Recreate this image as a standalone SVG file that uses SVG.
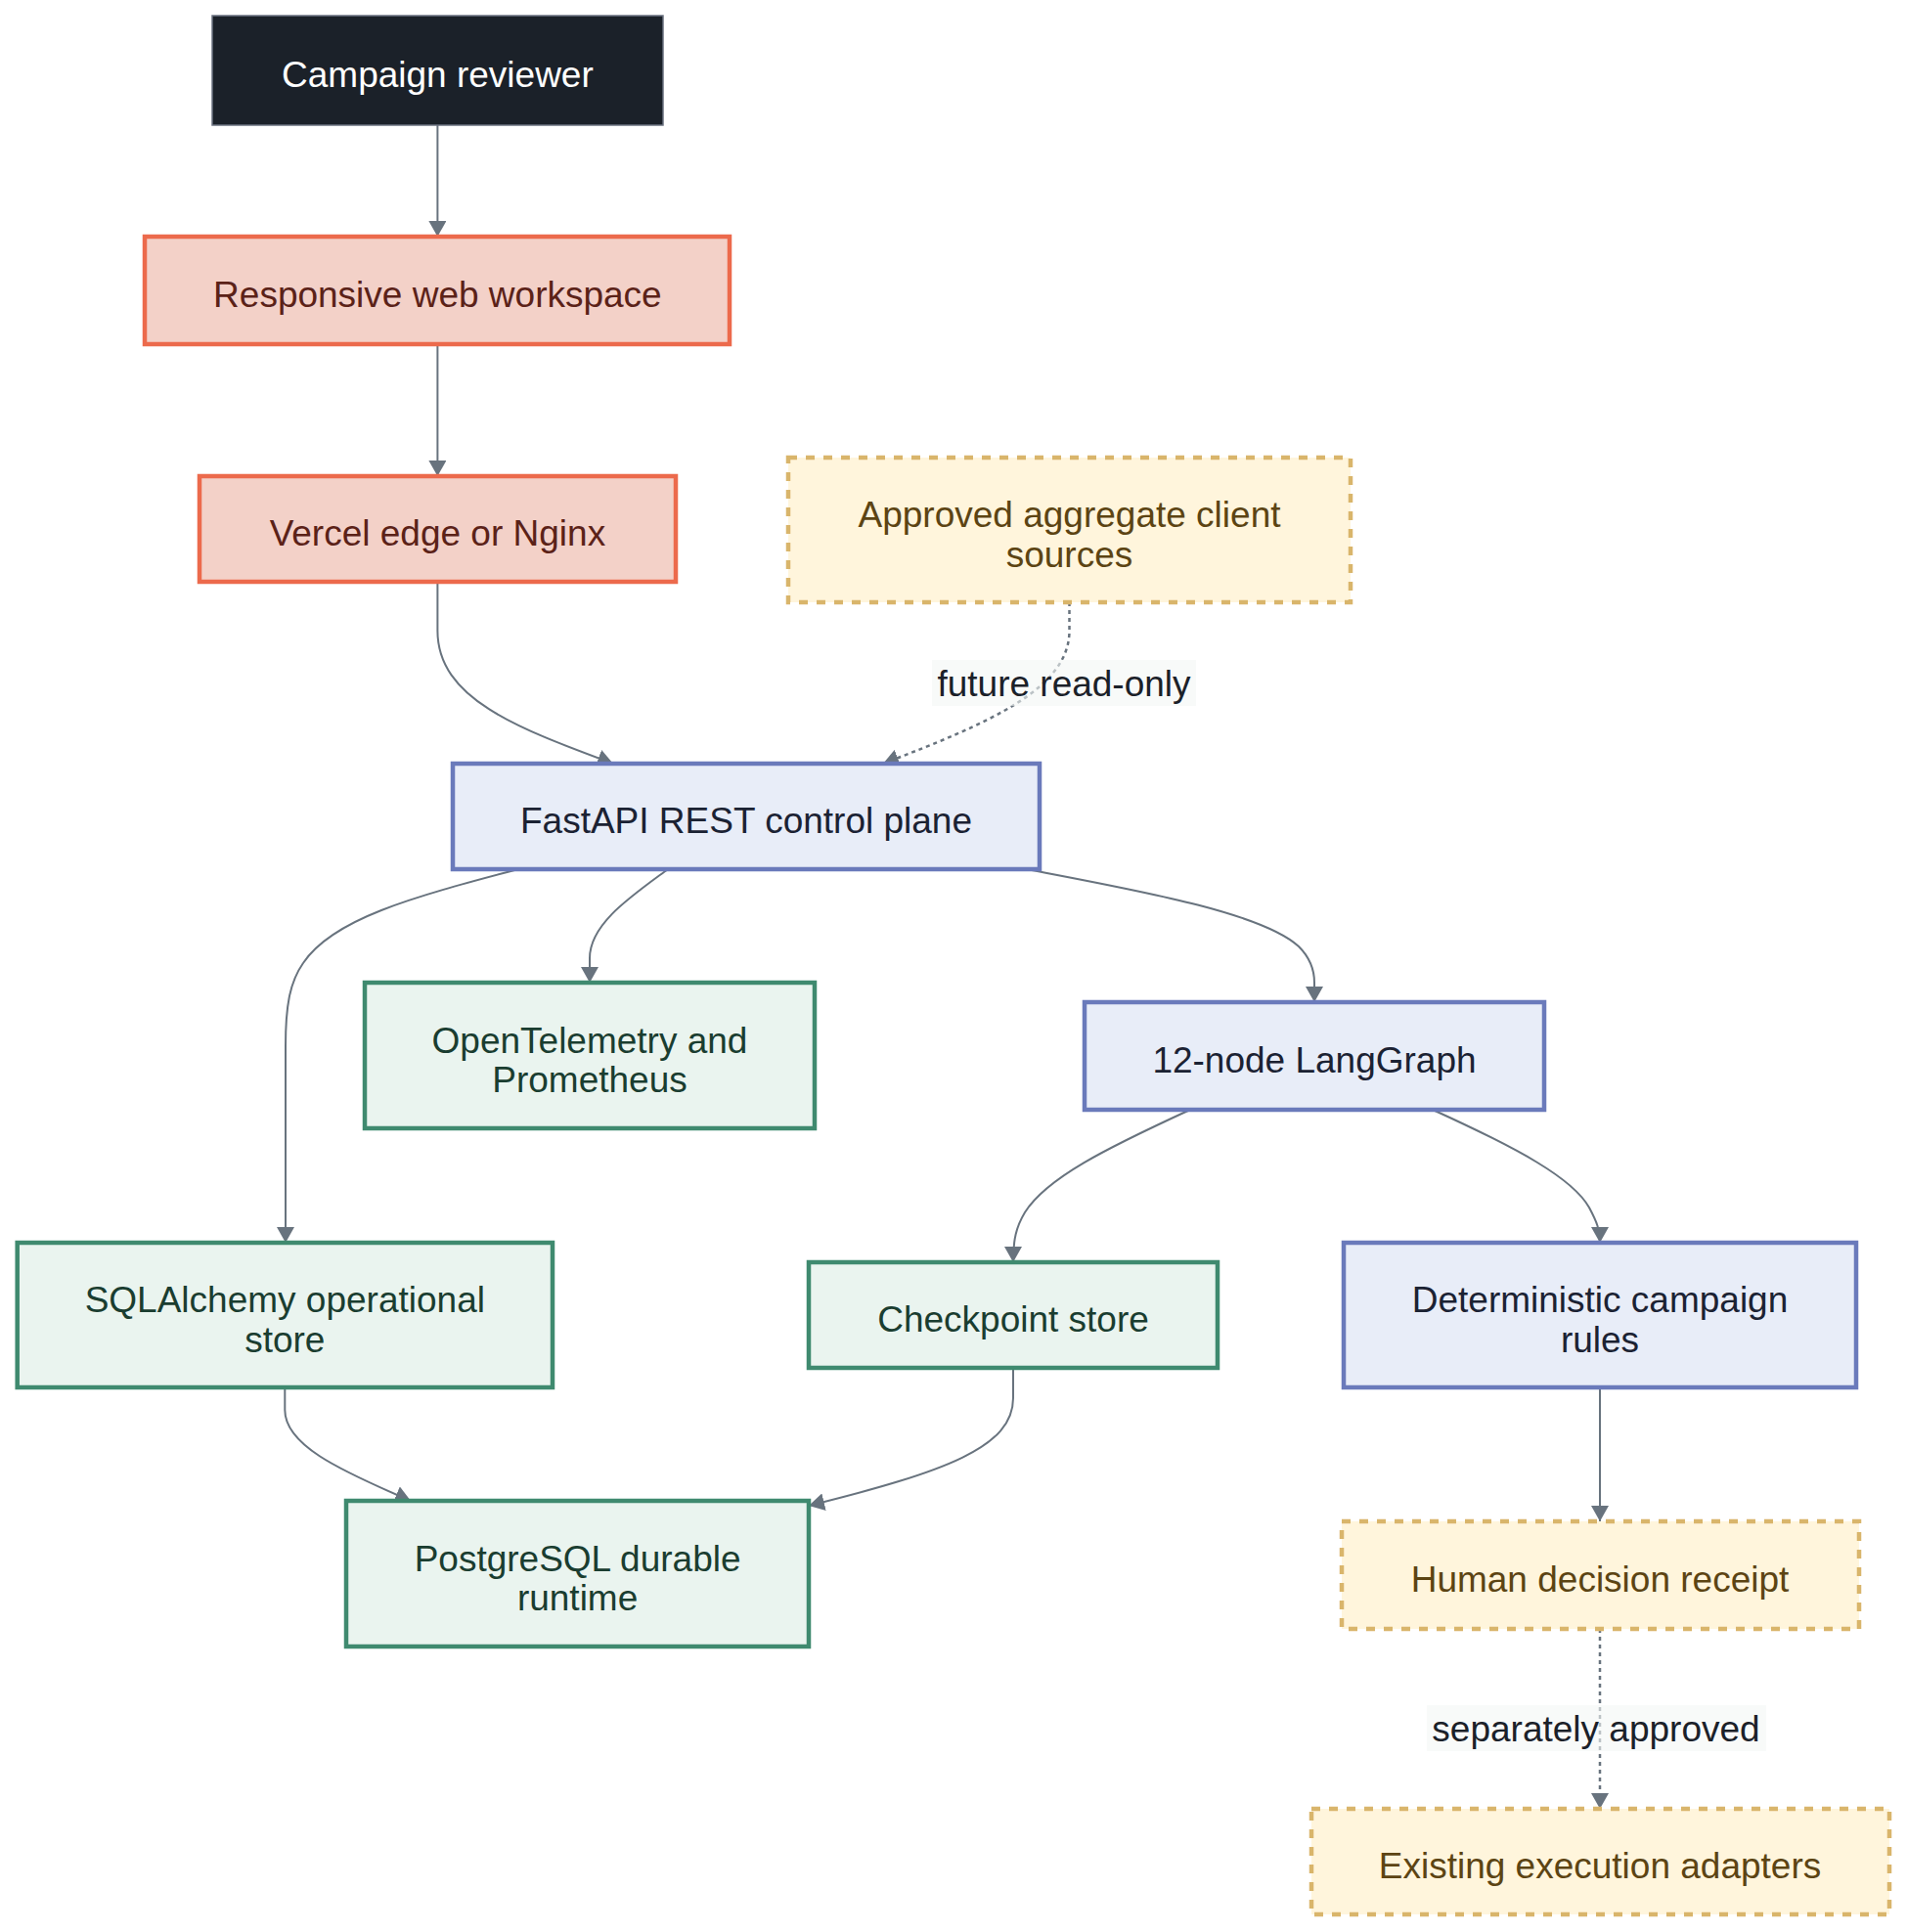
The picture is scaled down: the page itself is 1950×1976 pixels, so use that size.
<svg xmlns="http://www.w3.org/2000/svg" width="1950" height="1976" viewBox="0 0 1950 1976">
<defs>
<marker id="arr" viewBox="0 0 16 18" refX="16" refY="9" markerUnits="userSpaceOnUse" markerWidth="16" markerHeight="18" orient="auto">
<path d="M0,0 L16,9 L0,18 z" fill="#68737e"/>
</marker>
</defs>
<style>
text{font-family:"Liberation Sans",Arial,Helvetica,sans-serif;font-size:37px;text-anchor:middle}
.dark rect{fill:#1b2129;stroke:#6b7280;stroke-width:1.5}
.dark text{fill:#ffffff}
.coral rect{fill:#f3d1c8;stroke:#ec6a4c;stroke-width:4.5}
.coral text{fill:#5b2218}
.yel rect{fill:#fff5dc;stroke:#d9b56b;stroke-width:4.5;stroke-dasharray:9 9}
.yel text{fill:#5c4413}
.blue rect{fill:#e8edf8;stroke:#6a7abb;stroke-width:4.5}
.blue text{fill:#1b2233}
.green rect{fill:#eaf4ef;stroke:#3f8a6f;stroke-width:4.5}
.green text{fill:#1a3d30}
.edge{fill:none;stroke:#68737e;stroke-width:2;marker-end:url(#arr)}
.dot{stroke-width:2.5;stroke-dasharray:4 4}
.lbl rect{fill:#f3f7f5;fill-opacity:0.6}
.lbl text{fill:#1b2129}
</style>
<g id="edges">
<path class="edge" d="M447.4,128 V242"/>
<path class="edge" d="M447.4,352 V487"/>
<path class="edge" d="M447.4,595 V645 C447.4,715 530,745 627,781"/>
<path class="edge dot" d="M1093.5,616 V645 C1093.5,705 1010,740 903,781"/>
<path class="edge" d="M530,889 C420,918 340,940 310,985 C296,1005 292,1030 292,1070 V1271"/>
<path class="edge" d="M683,889 C645,917 603,945 603,980 V1005"/>
<path class="edge" d="M1050,889 C1160,910 1290,933 1328,968 C1340,980 1344,993 1344,1005 V1025"/>
<path class="edge" d="M1217,1135 C1130,1175 1070,1205 1048,1240 C1039,1255 1036,1268 1036,1291"/>
<path class="edge" d="M1465,1135 C1553,1175 1608,1205 1625,1235 C1633,1250 1636,1258 1636,1271"/>
<path class="edge" d="M291.3,1419 V1442 C291.3,1477 343,1502 420,1535"/>
<path class="edge" d="M1036,1399 V1430 C1036,1480 968,1505 827,1540"/>
<path class="edge" d="M1636,1419 V1556"/>
<path class="edge dot" d="M1636,1666 V1850"/>
<g class="lbl"><rect x="953" y="675" width="270" height="47"/><text x="1088" y="711.5">future read-only</text></g>
<g class="lbl"><rect x="1459" y="1744" width="347" height="47"/><text x="1632" y="1780.5">separately approved</text></g>
</g>
<g id="n-reviewer" class="dark"><rect x="217" y="16" width="461" height="112"/><text x="447.4" y="89">Campaign reviewer</text></g>
<g id="n-workspace" class="coral"><rect x="148" y="242" width="598" height="110"/><text x="447.4" y="314">Responsive web workspace</text></g>
<g id="n-edge" class="coral"><rect x="204" y="487" width="487" height="108"/><text x="447.4" y="558">Vercel edge or Nginx</text></g>
<g id="n-sources" class="yel"><rect x="806" y="468" width="575" height="148"/><text x="1093.5" y="539">Approved aggregate client</text><text x="1093.5" y="579.5">sources</text></g>
<g id="n-api" class="blue"><rect x="463" y="781" width="600" height="108"/><text x="763" y="852">FastAPI REST control plane</text></g>
<g id="n-otel" class="green"><rect x="373" y="1005" width="460" height="149"/><text x="603" y="1076.5">OpenTelemetry and</text><text x="603" y="1117">Prometheus</text></g>
<g id="n-graph" class="blue"><rect x="1109" y="1025" width="470" height="110"/><text x="1344" y="1097">12-node LangGraph</text></g>
<g id="n-sqla" class="green"><rect x="17.7" y="1271" width="547.3" height="148"/><text x="291.3" y="1342">SQLAlchemy operational</text><text x="291.3" y="1382.5">store</text></g>
<g id="n-ckpt" class="green"><rect x="827" y="1291" width="418" height="108"/><text x="1036" y="1362">Checkpoint store</text></g>
<g id="n-rules" class="blue"><rect x="1374" y="1271" width="524" height="148"/><text x="1636" y="1342">Deterministic campaign</text><text x="1636" y="1382.5">rules</text></g>
<g id="n-pg" class="green"><rect x="354" y="1535" width="473" height="149"/><text x="590.6" y="1606.5">PostgreSQL durable</text><text x="590.6" y="1647">runtime</text></g>
<g id="n-receipt" class="yel"><rect x="1372" y="1556" width="529" height="110"/><text x="1636" y="1628">Human decision receipt</text></g>
<g id="n-adapters" class="yel"><rect x="1341" y="1850" width="591" height="108"/><text x="1636" y="1921">Existing execution adapters</text></g>
</svg>
